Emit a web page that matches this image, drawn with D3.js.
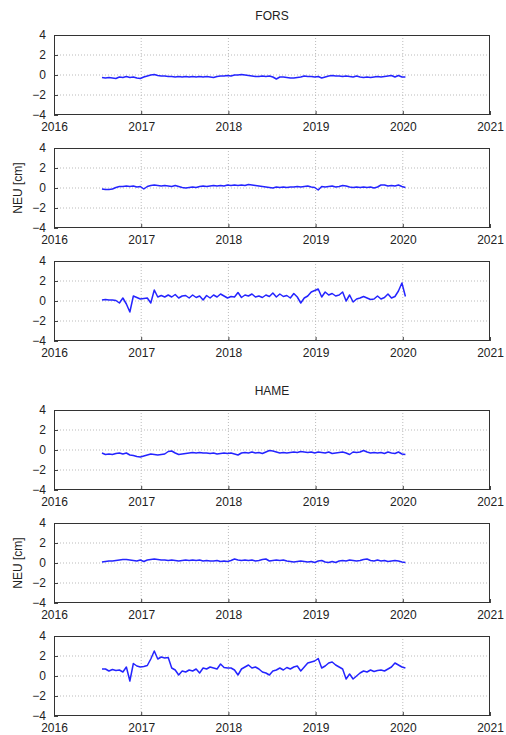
<!DOCTYPE html>
<html>
<head>
<meta charset="utf-8">
<script src="https://cdn.jsdelivr.net/npm/d3@7"></script>
<style>
  body { margin: 0; background: #fff; }
  text { font-family: "Liberation Sans", Arial, sans-serif; font-size: 12px; fill: #222; }
</style>
</head>
<body>
<div id="chart"></div>
<script>
// sampling of every series (decimal years)
var startYear = 2016.55,
    stepYear = 0.04;

var stations = ["FORS", "HAME"];
var yTicks = [4, 2, 0, -2, -4];
var xTicks = [2016, 2017, 2018, 2019, 2020, 2021];

// FORS  north / east / up  [cm]
var forsN = [-0.25,-0.3,-0.25,-0.3,-0.35, -0.2,-0.25,-0.15,-0.25,-0.2,
  -0.3,-0.35,-0.2,-0.1,0.0, 0.05,-0.05,-0.1,-0.1,-0.15,
  -0.15,-0.2,-0.15,-0.2,-0.15, -0.2,-0.15,-0.2,-0.15,-0.2,
  -0.15,-0.2,-0.25,-0.15,-0.1, -0.1,-0.05,-0.1,0.0,0.0,
  0.05,0.0,-0.05,-0.1,-0.15, -0.15,-0.1,-0.15,-0.1,-0.2,
  -0.4,-0.2,-0.2,-0.25,-0.3, -0.3,-0.25,-0.2,-0.1,-0.15,
  -0.15,-0.2,-0.15,-0.3,-0.2, -0.1,-0.05,-0.1,-0.1,-0.15,
  -0.1,-0.15,-0.2,-0.1,-0.2, -0.25,-0.2,-0.25,-0.2,-0.15,
  -0.2,-0.15,-0.1,-0.05,-0.2, -0.05,-0.2,-0.2];
var forsE = [-0.1,-0.15,-0.15,-0.1,0.05, 0.15,0.15,0.2,0.15,0.2,
  0.1,0.15,-0.1,0.15,0.25, 0.3,0.25,0.2,0.25,0.2,
  0.15,0.25,0.15,0.05,0.0, 0.05,0.1,0.05,0.15,0.2,
  0.15,0.2,0.25,0.2,0.25, 0.2,0.3,0.25,0.3,0.25,
  0.3,0.25,0.35,0.3,0.25, 0.2,0.15,0.1,0.05,0.0,
  0.1,0.05,0.1,0.05,0.1, 0.1,0.15,0.1,0.15,0.2,
  0.1,0.05,-0.2,0.15,0.1, 0.15,0.2,0.1,0.15,0.25,
  0.2,0.1,0.05,0.1,0.05, 0.1,0.05,0.1,0.0,0.1,
  0.3,0.3,0.2,0.25,0.2, 0.3,0.15,0.05];
var forsU = [0.1,0.15,0.1,0.1,0.05, -0.2,0.3,-0.3,-1.1,0.5,
  0.35,0.2,0.25,0.3,-0.2, 1.1,0.4,0.55,0.4,0.6,
  0.4,0.65,0.3,0.5,0.55, 0.3,0.6,0.35,0.5,0.1,
  0.55,0.3,0.6,0.4,0.7, 0.5,0.3,0.45,0.4,0.85,
  0.35,0.6,0.5,0.7,0.4, 0.5,0.35,0.6,0.45,0.8,
  0.4,0.7,0.45,0.55,0.3, 0.75,0.4,-0.2,0.3,0.5,
  0.9,1.05,1.2,0.4,0.9, 0.6,0.75,0.5,0.6,0.9,
  0.0,0.6,-0.1,0.2,0.3, 0.45,0.3,0.15,0.2,0.5,
  0.2,0.35,0.7,0.3,0.45, 1.0,1.8,0.45];

// HAME  north / east / up  [cm]
var hameN = [-0.3,-0.45,-0.4,-0.45,-0.35, -0.3,-0.4,-0.3,-0.5,-0.55,
  -0.65,-0.7,-0.6,-0.5,-0.4, -0.45,-0.5,-0.45,-0.4,-0.15,
  -0.1,-0.3,-0.45,-0.4,-0.35, -0.3,-0.25,-0.3,-0.25,-0.3,
  -0.3,-0.35,-0.3,-0.4,-0.35, -0.3,-0.35,-0.3,-0.4,-0.5,
  -0.3,-0.25,-0.3,-0.2,-0.3, -0.25,-0.35,-0.2,-0.05,-0.1,
  -0.2,-0.3,-0.25,-0.3,-0.25, -0.2,-0.25,-0.15,-0.2,-0.25,
  -0.2,-0.3,-0.2,-0.25,-0.3, -0.2,-0.35,-0.3,-0.25,-0.2,
  -0.3,-0.45,-0.2,-0.25,-0.2, -0.05,-0.2,-0.3,-0.25,-0.3,
  -0.25,-0.35,-0.2,-0.3,-0.35, -0.2,-0.4,-0.45];
var hameE = [0.1,0.15,0.2,0.2,0.25, 0.3,0.35,0.35,0.3,0.25,
  0.2,0.3,0.15,0.3,0.35, 0.4,0.35,0.3,0.3,0.25,
  0.3,0.25,0.2,0.25,0.3, 0.25,0.3,0.25,0.3,0.2,
  0.25,0.2,0.2,0.25,0.15, 0.2,0.15,0.25,0.4,0.3,
  0.25,0.3,0.25,0.3,0.2, 0.25,0.35,0.4,0.2,0.25,
  0.3,0.25,0.3,0.2,0.15, 0.1,0.15,0.2,0.15,0.1,
  0.15,0.05,0.2,0.25,0.1, 0.05,0.15,0.05,0.2,0.25,
  0.2,0.3,0.25,0.2,0.25, 0.35,0.4,0.25,0.2,0.3,
  0.2,0.25,0.15,0.2,0.25, 0.2,0.1,0.05];
var hameU = [0.7,0.7,0.5,0.65,0.55, 0.6,0.4,0.9,-0.5,1.25,
  1.0,0.9,0.95,1.05,1.7, 2.5,1.7,1.9,1.8,1.85,
  0.8,0.6,0.1,0.5,0.4, 0.6,0.5,0.7,0.3,0.8,
  0.7,0.9,0.8,0.7,1.2, 0.85,0.8,0.8,0.6,0.1,
  0.7,0.9,1.1,0.8,0.9, 0.7,0.4,0.3,0.1,0.5,
  0.6,0.8,0.6,0.85,0.7, 0.9,1.0,0.5,0.9,1.3,
  1.4,1.5,1.75,0.8,1.0, 1.3,1.4,1.1,0.9,0.7,
  -0.3,0.2,-0.3,0.0,0.3, 0.5,0.4,0.6,0.45,0.55,
  0.6,0.5,0.7,0.9,1.3, 1.1,0.9,0.8];

var panelSeries = [forsN, forsE, forsU, hameN, hameE, hameU];

var width = 506, height = 735,
    left = 54, right = 490,
    panelHeight = 80,
    panelTops = [35, 148, 261, 410, 523, 636],
    titleY = [20, 395];

var svg = d3.select("#chart").append("svg")
  .attr("width", width)
  .attr("height", height);

var x = d3.scaleLinear().domain([2016, 2021]).range([left, right]);

panelSeries.forEach(function(values, p) {
  var top = panelTops[p];
  var y = d3.scaleLinear().domain([-4, 4]).range([top + panelHeight, top]);
  var g = svg.append("g");

  // dotted grid
  g.selectAll(null).data(xTicks.slice(1, -1)).enter().append("line")
    .attr("x1", function(d) { return x(d); }).attr("x2", function(d) { return x(d); })
    .attr("y1", top).attr("y2", top + panelHeight)
    .attr("stroke", "#bbb").attr("stroke-width", 1).attr("stroke-dasharray", "1,2");
  g.selectAll(null).data(yTicks.slice(1, -1)).enter().append("line")
    .attr("x1", left).attr("x2", right)
    .attr("y1", function(d) { return y(d); }).attr("y2", function(d) { return y(d); })
    .attr("stroke", "#bbb").attr("stroke-width", 1).attr("stroke-dasharray", "1,2");

  // axes
  var yAxis = d3.axisLeft(y).tickValues(yTicks).tickSize(-4).tickPadding(8);
  var xAxis = d3.axisBottom(x).tickValues(xTicks).tickFormat(d3.format("d")).tickSize(-4).tickPadding(7);
  var ya = g.append("g").attr("transform", "translate(" + left + ",0)").call(yAxis);
  var xa = g.append("g").attr("transform", "translate(0," + (top + panelHeight) + ")").call(xAxis);
  [ya, xa].forEach(function(a) {
    a.select(".domain").remove();
    a.selectAll("line").attr("stroke", "#444");
    a.selectAll("text").attr("font-size", 12).attr("font-family", null).attr("fill", "#222");
  });

  var pts = values.map(function(v, i) { return [startYear + i * stepYear, v]; });
  var line = d3.line()
    .x(function(d) { return x(d[0]); })
    .y(function(d) { return y(d[1]); });
  g.append("path")
    .datum(pts)
    .attr("fill", "none")
    .attr("stroke", "#2424ff")
    .attr("stroke-width", 1.5)
    .attr("stroke-linejoin", "round")
    .attr("d", line);

  // frame
  g.append("rect")
    .attr("x", left + 0.5).attr("y", top + 0.5)
    .attr("width", right - left - 1).attr("height", panelHeight - 1)
    .attr("fill", "none").attr("stroke", "#333").attr("stroke-width", 1);

  if (p % 3 === 1) {
    svg.append("text")
      .attr("transform", "translate(22," + (top + panelHeight / 2) + ") rotate(-90)")
      .attr("text-anchor", "middle")
      .text("NEU [cm]");
  }
});

stations.forEach(function(name, s) {
  svg.append("text")
    .attr("x", (left + right) / 2)
    .attr("y", titleY[s])
    .attr("text-anchor", "middle")
    .text(name);
});
</script>
</body>
</html>
